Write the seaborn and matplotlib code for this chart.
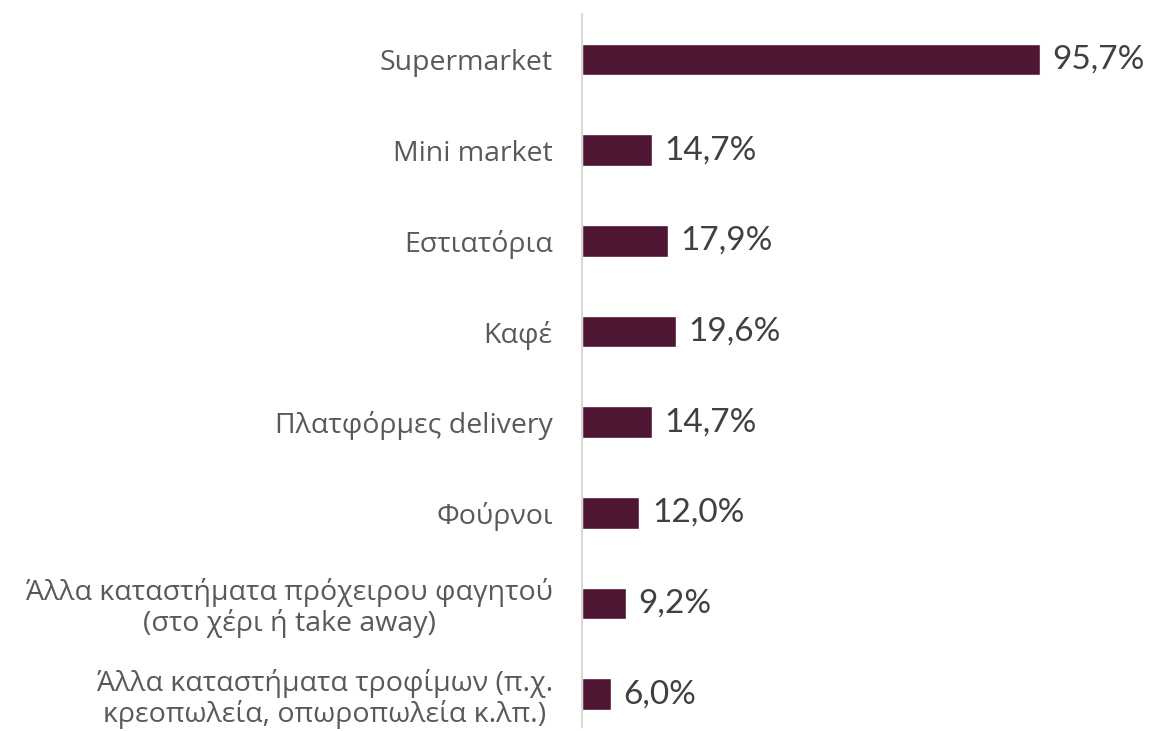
import matplotlib
matplotlib.use('Agg')
import matplotlib.pyplot as plt
import pandas as pd
import seaborn as sns

# Data
categories = [
    'Supermarket',
    'Mini market',
    'Εστιατόρια',
    'Καφέ',
    'Πλατφόρμες delivery',
    'Φούρνοι',
    'Άλλα καταστήματα πρόχειρου φαγητού\n(στο χέρι ή take away)',
    'Άλλα καταστήματα τροφίμων (π.χ.\nκρεοπωλεία, οπωροπωλεία κ.λπ.)',
]
values = [95.7, 14.7, 17.9, 19.6, 14.7, 12.0, 9.2, 6.0]

df = pd.DataFrame({'cat': categories, 'val': values})

sns.set_style('white')
plt.rcParams['font.family'] = ['Open Sans', 'DejaVu Sans']

fig = plt.figure(figsize=(11.51, 7.31), dpi=100)
ax = fig.add_axes([0.5056, 0.0055, 0.4571, 0.9753])

sns.barplot(data=df, y='cat', x='val', orient='h', color='#4E1633',
            width=0.35, saturation=1, ax=ax)

ax.set_xlim(0, 110)
ax.set_ylim(7.36, -0.5)
ax.set_xlabel('')
ax.set_ylabel('')
ax.set_xticks([])

for s in ['top', 'right', 'bottom']:
    ax.spines[s].set_visible(False)
ax.spines['left'].set_color('#D9D9D9')
ax.spines['left'].set_linewidth(1.5)

ax.tick_params(axis='y', length=0, pad=21, labelsize=20.5, labelcolor='#595959')
for lbl in ax.get_yticklabels():
    lbl.set_multialignment('center')
    lbl.set_linespacing(1.1)

# value labels
for i, v in enumerate(values):
    ax.annotate(f'{v:.1f}%'.replace('.', ','), xy=(v, i), xytext=(9, 0),
                textcoords='offset points', va='center', ha='left',
                fontsize=24, color='#404040', family=['Lato', 'DejaVu Sans'])

fig.savefig('out.png', dpi=100)
